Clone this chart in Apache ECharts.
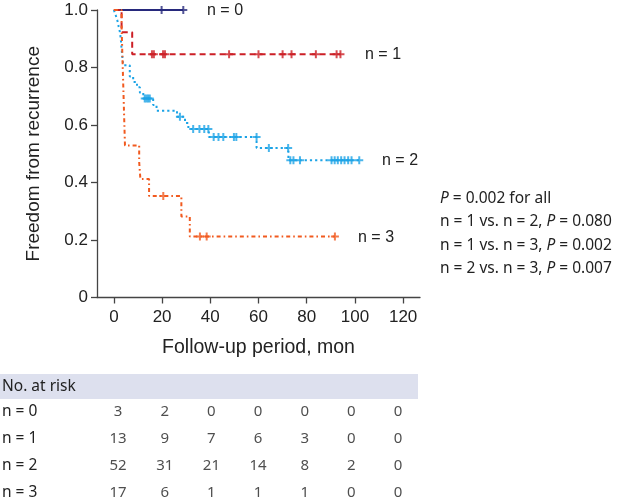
<!DOCTYPE html>
<html><head><meta charset="utf-8">
<script src="https://cdn.jsdelivr.net/npm/echarts@6/dist/echarts.min.js"></script>
<style>html,body{margin:0;padding:0;background:#fff}#c{width:620px;height:498px}</style>
</head><body><div id="c"></div><script>
// ---- axes ----
const xTicks = [0, 20, 40, 60, 80, 100, 120];
const yTicks = [0, 0.2, 0.4, 0.6, 0.8, 1.0];
const groupNames = ['n = 0', 'n = 1', 'n = 2', 'n = 3'];

// ---- Kaplan-Meier steps (time in months, survival) ----
const g0Times = [0, 28.8];
const g0Surv  = [1, 1];
const g0CensT = [19.8, 28.8];
const g0CensS = [1, 1];

const g1Times = [0, 3.2, 7.6, 94];
const g1Surv  = [1, 0.923, 0.846, 0.846];
const g1CensT = [15.8, 16.6, 20.4, 21.2, 47.8, 60, 70, 73.7, 83.8, 92.4, 94];
const g1CensS = [0.846, 0.846, 0.846, 0.846, 0.846, 0.846, 0.846, 0.846, 0.846, 0.846, 0.846];

const g2Times = [0, 0.8, 1.5, 2.0, 2.5, 2.8, 3.0, 3.2, 3.4, 3.6, 3.9, 6.6, 8.0, 9.6, 10.8, 12.2, 16.3, 17.7, 26.2, 29.5, 30.9, 39.4, 59.2, 72.4, 101.8];
const g2Surv  = [1, 0.981, 0.962, 0.942, 0.923, 0.904, 0.885, 0.865, 0.846, 0.827, 0.808, 0.769, 0.750, 0.731, 0.712, 0.692, 0.670, 0.650, 0.629, 0.607, 0.586, 0.558, 0.520, 0.477, 0.477];
const g2CensT = [12.8, 13.5, 14.2, 14.9, 27.4, 32.9, 35.5, 37.5, 39.2, 41.4, 43.4, 45.4, 49.8, 50.8, 59.2, 64.3, 72.3, 73.2, 74.5, 77.2, 90.3, 91.6, 92.9, 94.3, 95.7, 97.2, 98.6, 101.8];
const g2CensS = [0.692, 0.692, 0.692, 0.692, 0.629, 0.586, 0.586, 0.586, 0.586, 0.558, 0.558, 0.558, 0.558, 0.558, 0.558, 0.520, 0.520, 0.477, 0.477, 0.477, 0.477, 0.477, 0.477, 0.477, 0.477, 0.477, 0.477, 0.477];

const g3Times = [0, 3.2, 3.4, 3.6, 3.8, 4.0, 4.2, 4.4, 4.6, 10.5, 11.0, 14.6, 28.0, 31.5, 91.7];
const g3Surv  = [1, 0.941, 0.882, 0.824, 0.765, 0.706, 0.647, 0.588, 0.529, 0.471, 0.412, 0.353, 0.282, 0.212, 0.212];
const g3CensT = [20.5, 35.7, 38.5, 91.7];
const g3CensS = [0.353, 0.212, 0.212, 0.212];

// ---- number at risk table ----
const riskRows = ['n = 0', 'n = 1', 'n = 2', 'n = 3'];
const riskCols = ['0', '20', '40', '60', '80', '100', '120'];
const riskN0 = [3, 2, 0, 0, 0, 0, 0];
const riskN1 = [13, 9, 7, 6, 3, 0, 0];
const riskN2 = [52, 31, 21, 14, 8, 2, 0];
const riskN3 = [17, 6, 1, 1, 1, 0, 0];

// ---- p-values ----
const pLines = [
  ['', '0.002 for all'],
  ['n = 1 vs. n = 2, ', '0.080'],
  ['n = 1 vs. n = 3, ', '0.002'],
  ['n = 2 vs. n = 3, ', '0.007']
];

const colors = ['#27297c', '#cc1f26', '#1ba3e6', '#f15a1f'];
const dashes = ['solid', [6, 4], [2.2, 3], [4, 3, 1.6, 3]];
const stepT = [g0Times, g1Times, g2Times, g3Times];
const stepS = [g0Surv, g1Surv, g2Surv, g3Surv];
const censT = [g0CensT, g1CensT, g2CensT, g3CensT];
const censS = [g0CensS, g1CensS, g2CensS, g3CensS];
const riskData = [riskN0, riskN1, riskN2, riskN3];

const AX = 'Liberation Sans, Arial, sans-serif';
const TB = 'Noto Sans, Open Sans, sans-serif';
const plus = 'path://M3,0H5V3H8V5H5V8H3V5H0V3H3Z';

const series = [];
for (let g = 0; g < 4; g++) {
  series.push({
    type: 'line', xAxisIndex: 0, yAxisIndex: 0, step: 'end', symbol: 'none', silent: true,
    data: stepT[g].map((t, i) => [t, stepS[g][i]]),
    lineStyle: { color: colors[g], width: 2, type: dashes[g] },
    z: 2 + g
  });
  series.push({
    type: 'scatter', xAxisIndex: 0, yAxisIndex: 0, symbol: plus, symbolSize: [8, 8], silent: true,
    data: censT[g].map((t, i) => [t, censS[g][i]]),
    itemStyle: { color: colors[g] },
    z: 6
  });
}
const tableData = [];
for (let r = 0; r < 4; r++) for (let c = 0; c < 7; c++) tableData.push([c, r, riskData[r][c]]);
series.push({
  type: 'scatter', xAxisIndex: 1, yAxisIndex: 1, symbolSize: 1, silent: true,
  itemStyle: { color: 'rgba(0,0,0,0)' },
  label: { show: true, position: 'inside', formatter: p => String(p.value[2]),
           fontFamily: TB, fontSize: 15, color: '#222' },
  data: tableData
});

const graphic = [
  { type: 'rect', shape: { x: 0, y: 374, width: 418, height: 25 }, style: { fill: '#dde0ee' }, z: -1 },
  { type: 'text', x: 2, y: 386.5, style: { text: 'No. at risk', font: '15.5px ' + TB, fill: '#222', textVerticalAlign: 'middle' } },
  { type: 'text', x: 207, y: 10.5, style: { text: groupNames[0], font: '16px ' + AX, fill: '#222', textVerticalAlign: 'middle' } },
  { type: 'text', x: 365, y: 54.5, style: { text: groupNames[1], font: '16px ' + AX, fill: '#222', textVerticalAlign: 'middle' } },
  { type: 'text', x: 382, y: 160.5, style: { text: groupNames[2], font: '16px ' + AX, fill: '#222', textVerticalAlign: 'middle' } },
  { type: 'text', x: 358, y: 237.5, style: { text: groupNames[3], font: '16px ' + AX, fill: '#222', textVerticalAlign: 'middle' } }
];
pLines.forEach((pl, i) => {
  graphic.push({
    type: 'text', x: 440, y: 198.5 + i * 23.3,
    style: {
      text: (pl[0] ? '{n|' + pl[0] + '}' : '') + '{i|P}{n| = ' + pl[1] + '}',
      textVerticalAlign: 'middle',
      rich: {
        n: { fontFamily: TB, fontSize: 15.5, fill: '#222', color: '#222' },
        i: { fontFamily: TB, fontSize: 15.5, fontStyle: 'italic', fill: '#222', color: '#222' }
      }
    }
  });
});

const chart = echarts.init(document.getElementById('c'), null, { renderer: 'canvas' });
chart.setOption({
  animation: false,
  backgroundColor: '#fff',
  grid: [
    { left: 97, top: 10, width: 323, height: 287.5, outerBoundsMode: 'none', containLabel: false },
    { left: 94.7, top: 398, width: 326.7, height: 100, outerBoundsMode: 'none', containLabel: false }
  ],
  xAxis: [
    {
      type: 'value', gridIndex: 0, min: -7, max: 127,
      name: 'Follow-up period, mon', nameLocation: 'middle', nameGap: 40,
      nameTextStyle: { fontFamily: AX, fontSize: 19.5, color: '#222' },
      axisLine: { onZero: false, lineStyle: { color: '#444', width: 1.3 } },
      axisTick: { show: true, length: 6, customValues: xTicks, lineStyle: { color: '#444', width: 1.3 } },
      axisLabel: { customValues: xTicks, margin: 11, fontFamily: AX, fontSize: 17, color: '#222' },
      splitLine: { show: false }
    },
    {
      type: 'category', gridIndex: 1, data: riskCols, show: false
    }
  ],
  yAxis: [
    {
      type: 'value', gridIndex: 0, min: 0, max: 1, interval: 0.2,
      name: 'Freedom from recurrence', nameLocation: 'middle', nameGap: 54,
      nameTextStyle: { fontFamily: AX, fontSize: 19, color: '#222' },
      axisLine: { show: true, onZero: false, lineStyle: { color: '#444', width: 1.3 } },
      axisTick: { show: true, length: 6, lineStyle: { color: '#444', width: 1.3 } },
      axisLabel: { margin: 9, fontFamily: AX, fontSize: 17, color: '#222',
                   formatter: v => (v === 0 ? '0' : v.toFixed(1)) },
      splitLine: { show: false }
    },
    {
      type: 'value', gridIndex: 1, min: -0.5, max: 3.2, inverse: true,
      axisLine: { show: false }, axisTick: { show: false }, splitLine: { show: false },
      axisLabel: { customValues: [0, 1, 2, 3], formatter: v => riskRows[Math.round(v)] || '',
                   hideOverlap: false, showMinLabel: true, showMaxLabel: true,
                   align: 'left', margin: 92.7, fontFamily: TB, fontSize: 15.5, color: '#222' }
    }
  ],
  graphic: graphic,
  series: series
});
</script></body></html>
